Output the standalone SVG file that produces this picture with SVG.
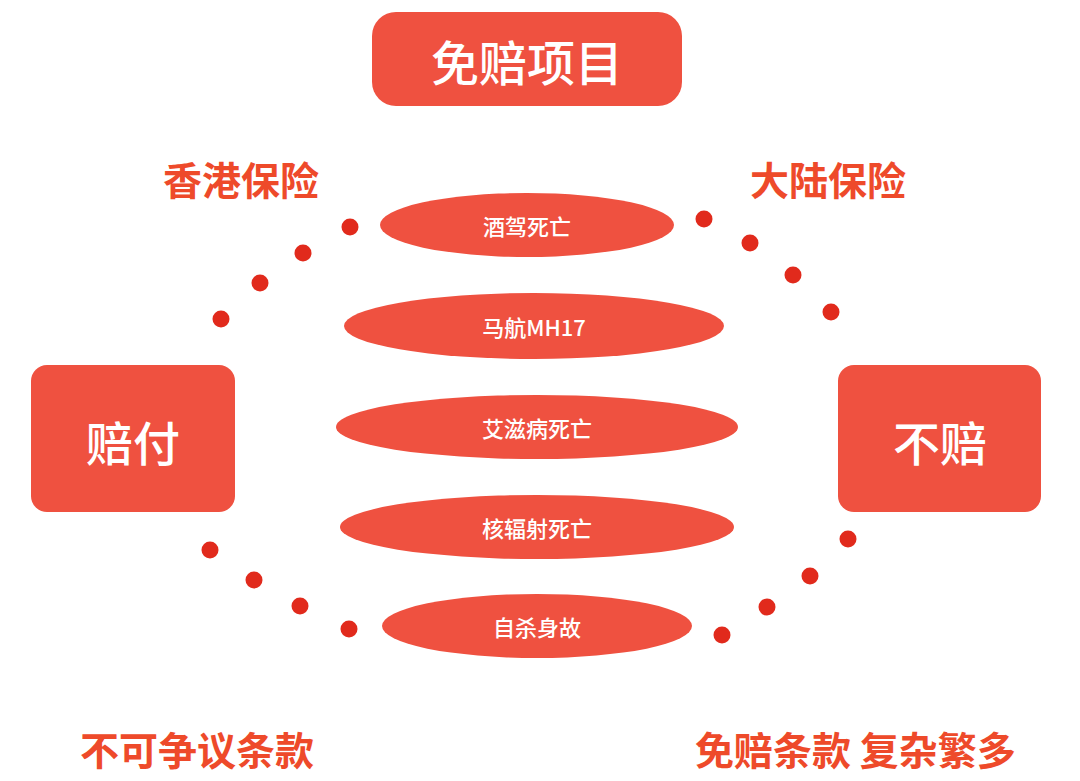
<svg xmlns="http://www.w3.org/2000/svg" width="1080" height="781" viewBox="0 0 1080 781">
<style>
.box{fill:#ef5140}
.ell{fill:#ef5140}
.dot{fill:#e12a1c}
.wt{fill:#fff;font-family:"Noto Sans CJK SC","Noto Sans",sans-serif;font-weight:500;text-anchor:middle;dominant-baseline:central}
.lbl{fill:#ee4a2a;font-family:"Noto Sans CJK SC","Noto Sans",sans-serif;font-weight:bold;font-size:39px;dominant-baseline:central}
</style>
<rect width="1080" height="781" fill="#fff"/>
<g id="title"><rect class="box" x="372" y="12" width="310" height="94" rx="24"/><text class="wt" x="527" y="60" font-size="48">免赔项目</text></g>
<g id="pay"><rect class="box" x="31" y="365" width="204" height="147" rx="16"/><text class="wt" x="133" y="440" font-size="47">赔付</text></g>
<g id="nopay"><rect class="box" x="838" y="365" width="203" height="147" rx="16"/><text class="wt" x="940" y="440" font-size="47">不赔</text></g>
<g id="e1"><ellipse class="ell" cx="527" cy="225" rx="147" ry="32"/><text class="wt" x="527" y="225" font-size="22">酒驾死亡</text></g>
<g id="e2"><ellipse class="ell" cx="534" cy="326" rx="190" ry="33"/><text class="wt" x="534" y="326" font-size="22">马航MH17</text></g>
<g id="e3"><ellipse class="ell" cx="537" cy="427" rx="201" ry="32"/><text class="wt" x="537" y="427" font-size="22">艾滋病死亡</text></g>
<g id="e4"><ellipse class="ell" cx="537" cy="527" rx="197" ry="32"/><text class="wt" x="537" y="527" font-size="22">核辐射死亡</text></g>
<g id="e5"><ellipse class="ell" cx="537" cy="626" rx="155" ry="32"/><text class="wt" x="537" y="626" font-size="22">自杀身故</text></g>
<g id="connectors">
<circle class="dot" cx="350" cy="227" r="8.5"/><circle class="dot" cx="303" cy="253" r="8.5"/><circle class="dot" cx="260" cy="283" r="8.5"/><circle class="dot" cx="221" cy="319" r="8.5"/>
<circle class="dot" cx="704" cy="219" r="8.5"/><circle class="dot" cx="750" cy="243" r="8.5"/><circle class="dot" cx="793" cy="275" r="8.5"/><circle class="dot" cx="831" cy="312" r="8.5"/>
<circle class="dot" cx="210" cy="550" r="8.5"/><circle class="dot" cx="254" cy="580" r="8.5"/><circle class="dot" cx="300" cy="606" r="8.5"/><circle class="dot" cx="349" cy="629" r="8.5"/>
<circle class="dot" cx="848" cy="539" r="8.5"/><circle class="dot" cx="810" cy="576" r="8.5"/><circle class="dot" cx="767" cy="607" r="8.5"/><circle class="dot" cx="722" cy="635" r="8.5"/>
</g>
<g id="hk"><text class="lbl" x="163" y="178">香港保险</text></g>
<g id="mainland"><text class="lbl" x="750" y="178">大陆保险</text></g>
<g id="incontestable"><text class="lbl" x="80" y="748">不可争议条款</text></g>
<g id="exclusions"><text class="lbl" x="695" y="748">免赔条款 复杂繁多</text></g>
</svg>
